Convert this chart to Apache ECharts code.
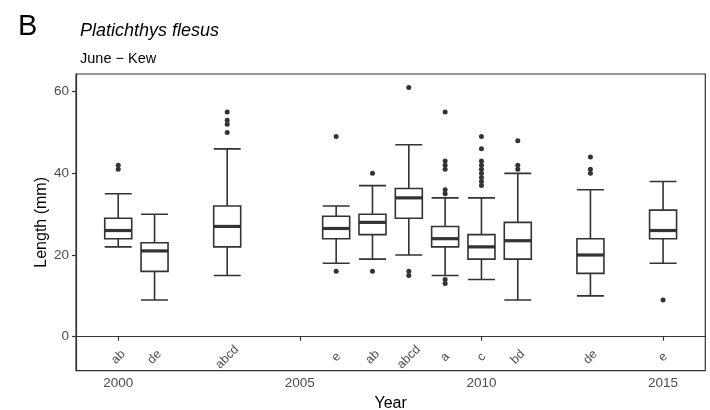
<!DOCTYPE html>
<html>
<head>
<meta charset="utf-8">
<script src="https://cdn.jsdelivr.net/npm/echarts@6/dist/echarts.min.js"></script>
<style>
  html, body { margin: 0; padding: 0; background: #fff; }
  #chart { width: 710px; height: 410px; }
</style>
</head>
<body>
<div id="chart"></div>
<script>
const years = [2000, 2001, 2003, 2006, 2007, 2008, 2009, 2010, 2011, 2013, 2015];
const lowWhisker = [22, 9, 15, 18, 19, 20, 15, 14, 9, 10, 18];
const q1 = [24, 16, 22, 24, 25, 29, 22, 19, 19, 15.5, 24];
const median = [26, 21, 27, 26.5, 28, 34, 24, 22, 23.5, 20, 26];
const q3 = [29, 23, 32, 29.5, 30, 36.3, 27, 25, 28, 24, 31];
const highWhisker = [35, 30, 46, 32, 37, 47, 34, 34, 40, 36, 38];
const letters = ['ab', 'de', 'abcd', 'e', 'ab', 'abcd', 'a', 'c', 'bd', 'de', 'e'];
const letterY = -5;

// outliers per year
const outliers = {
  2000: [41, 42],
  2003: [50, 52, 53, 55],
  2006: [49, 16],
  2007: [40, 16],
  2008: [61, 16, 15],
  2009: [55, 43, 42, 41, 36, 35, 14, 13],
  2010: [49, 46, 43, 42, 41, 40, 39, 38, 37],
  2011: [48, 42, 41],
  2013: [44, 41, 40],
  2015: [9]
};

const xTicks = [2000, 2005, 2010, 2015];
const yTicks = [0, 20, 40, 60];

const font = 'Liberation Sans, Arial, sans-serif';
const ink = '#333333';
const halfBox = 0.375; // box half width, in years

const boxData = years.map((y, i) => [y, lowWhisker[i], q1[i], median[i], q3[i], highWhisker[i]]);
const medianData = years.map((y, i) => [y, median[i]]);
const outlierData = [];
Object.keys(outliers).forEach(y => {
  outliers[y].forEach(v => outlierData.push([Number(y), v]));
});
const letterData = years.map((y, i) => ({ value: [y, letterY], name: letters[i] }));

const chart = echarts.init(document.getElementById('chart'));

const option = {
  animation: false,
  textStyle: { fontFamily: font },
  title: [
    { text: 'B', left: 13, top: 7, textStyle: { fontSize: 29, fontWeight: 'normal', color: '#000', fontFamily: font } },
    { text: 'Platichthys flesus', left: 75, top: 17, textStyle: { fontSize: 18, fontStyle: 'italic', fontWeight: 'normal', color: '#000', fontFamily: font } },
    { text: 'June \u2212 Kew', left: 75, top: 46, textStyle: { fontSize: 14.5, fontWeight: 'normal', color: '#000', fontFamily: font } }
  ],
  grid: {
    left: 76, right: 4.7, top: 74, bottom: 39.3,
    outerBoundsMode: 'none',
    show: true, borderColor: ink, borderWidth: 1.2, backgroundColor: '#fff'
  },
  xAxis: {
    type: 'value',
    min: 1998.8375,
    max: 2016.1625,
    name: 'Year',
    nameLocation: 'middle',
    nameGap: 23,
    nameTextStyle: { fontSize: 16, color: '#000' },
    axisLine: { show: true, lineStyle: { color: ink, width: 1.2 } },
    axisTick: { show: true, customValues: xTicks, length: 4, lineStyle: { color: ink, width: 1.2 } },
    axisLabel: { customValues: xTicks, fontSize: 13.5, color: '#4d4d4d', margin: 6, formatter: v => String(v) },
    splitLine: { show: false }
  },
  yAxis: {
    type: 'value',
    min: -8.33,
    max: 64.33,
    name: 'Length (mm)',
    nameLocation: 'middle',
    nameGap: 26,
    nameMoveOverlap: false,
    nameTextStyle: { fontSize: 16, color: '#000' },
    axisLine: { show: true, lineStyle: { color: ink, width: 1.2 } },
    axisTick: { show: true, customValues: yTicks, length: 4, lineStyle: { color: ink, width: 1.2 } },
    axisLabel: { customValues: yTicks, fontSize: 13.5, color: '#4d4d4d', margin: 7 },
    splitLine: { show: false }
  },
  series: [
    {
      type: 'boxplot',
      data: boxData,
      boxWidth: [27, 27],
      itemStyle: { color: '#fff', borderColor: ink, borderWidth: 1.6 }
    },
    {
      type: 'custom',
      data: medianData,
      renderItem: (params, api) => {
        const x = api.value(0);
        const m = api.value(1);
        const a = api.coord([x - halfBox, m]);
        const b = api.coord([x + halfBox, m]);
        return {
          type: 'line',
          shape: { x1: a[0], y1: a[1], x2: b[0], y2: b[1] },
          style: { stroke: ink, lineWidth: 3.2 }
        };
      },
      z: 5
    },
    {
      type: 'scatter',
      data: outlierData,
      symbolSize: 5,
      itemStyle: { color: ink, opacity: 1 }
    },
    {
      type: 'scatter',
      data: letterData,
      symbolSize: 0,
      label: {
        show: true,
        position: 'inside',
        rotate: 45,
        formatter: p => p.name,
        fontSize: 12.5,
        color: '#1a1a1a'
      }
    }
  ]
};

chart.setOption(option);
</script>
</body>
</html>
